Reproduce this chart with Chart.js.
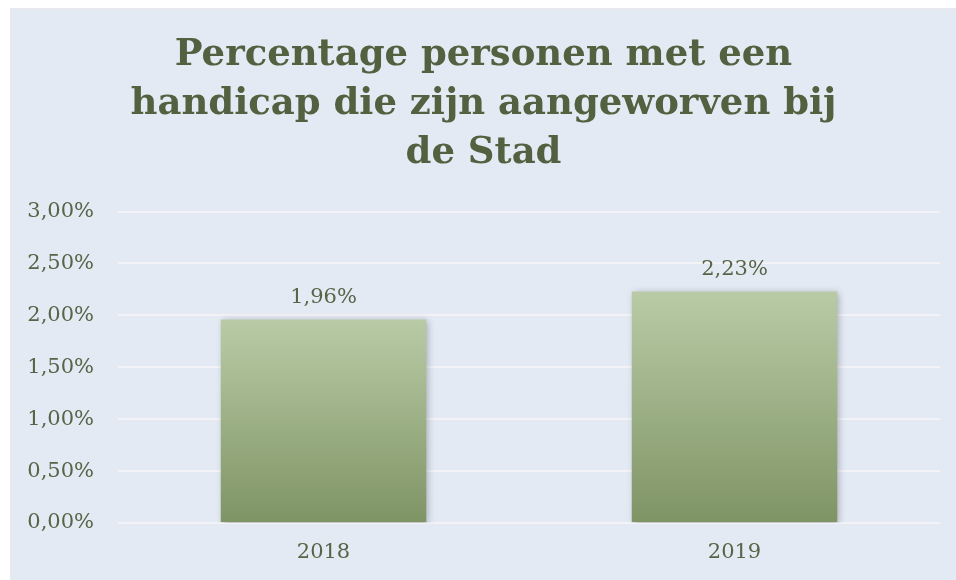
<!DOCTYPE html>
<html>
<head>
<meta charset="utf-8">
<script src="https://cdn.jsdelivr.net/npm/chart.js@4/dist/chart.umd.min.js"></script>
<style>
  html, body { margin: 0; padding: 0; background: #fff; }
  #panel {
    position: absolute; left: 10px; top: 8px; width: 946px; height: 572px;
    background: #e4eaf3; box-sizing: border-box;
    border-left: 1px solid #e8e8ee; border-top: 1px solid #ece8f0;
  }
  canvas { display: block; }
</style>
</head>
<body>
<div id="panel"><canvas id="chart" width="945" height="571"></canvas></div>
<script>
// chart data
const years = ["2018", "2019"];
const percentages = [1.96, 2.23];
const yTicks = [0, 0.5, 1, 1.5, 2, 2.5, 3];
const titleLines = ["Percentage personen met een", "handicap die zijn aangeworven bij", "de Stad"];

const textColor = "#566547";
const titleColor = "#526241";

const fmt = v => v.toFixed(2).replace(".", ",") + "%";

// per-bar vertical gradient, from bar top to the zero line
function barGradient(context) {
  const chart = context.chart;
  const y = chart.scales.y;
  if (!y || context.dataIndex === undefined) return "#9fb386";
  const top = y.getPixelForValue(percentages[context.dataIndex]);
  const bottom = y.getPixelForValue(0);
  if (!isFinite(top) || !isFinite(bottom) || top === bottom) return "#9fb386";
  const g = chart.ctx.createLinearGradient(0, top, 0, bottom);
  g.addColorStop(0, "#b9cba6");
  g.addColorStop(1, "#7f9465");
  return g;
}

// soft shadow behind the bars, like the office chart
const barShadow = {
  id: "barShadow",
  beforeDatasetDraw(chart) {
    const ctx = chart.ctx;
    ctx.save();
    ctx.shadowColor = "rgba(40, 40, 60, 0.35)";
    ctx.shadowBlur = 7;
    ctx.shadowOffsetX = 2;
    ctx.shadowOffsetY = 2;
  },
  afterDatasetDraw(chart) {
    chart.ctx.restore();
  }
};

// value labels above each bar
const valueLabels = {
  id: "valueLabels",
  afterDatasetsDraw(chart) {
    const ctx = chart.ctx;
    const meta = chart.getDatasetMeta(0);
    ctx.save();
    ctx.font = "21px 'DejaVu Serif'";
    ctx.fillStyle = textColor;
    ctx.textAlign = "center";
    ctx.textBaseline = "middle";
    meta.data.forEach((bar, i) => {
      ctx.fillText(fmt(percentages[i]), bar.x, bar.y - 22);
    });
    ctx.restore();
  }
};

new Chart(document.getElementById("chart"), {
  type: "bar",
  data: {
    labels: years,
    datasets: [{
      data: percentages,
      backgroundColor: barGradient,
      borderWidth: 0,
      categoryPercentage: 0.5,
      barPercentage: 1
    }]
  },
  options: {
    responsive: false,
    animation: false,
    layout: { padding: { left: 16, right: 16, top: 10, bottom: 16 } },
    plugins: {
      legend: { display: false },
      tooltip: { enabled: false },
      title: {
        display: true,
        text: titleLines,
        color: titleColor,
        font: { family: "'DejaVu Serif'", weight: "bold", size: 37, lineHeight: 1.32 },
        padding: { top: 12, bottom: 34 }
      }
    },
    scales: {
      x: {
        afterFit: s => { s.height = 41; },
        grid: { display: false, drawTicks: false },
        border: { display: false },
        ticks: {
          color: textColor,
          font: { family: "'DejaVu Serif'", size: 21 },
          padding: 17
        }
      },
      y: {
        min: 0,
        max: 3,
        afterFit: s => { s.width = 91; },
        afterBuildTicks: axis => { axis.ticks = yTicks.map(v => ({ value: v })); },
        grid: { color: "#f3f3f7", lineWidth: 2, drawTicks: false },
        border: { display: false },
        ticks: {
          color: textColor,
          font: { family: "'DejaVu Serif'", size: 21 },
          padding: 24,
          callback: v => fmt(v)
        }
      }
    }
  },
  plugins: [barShadow, valueLabels]
});
</script>
</body>
</html>
